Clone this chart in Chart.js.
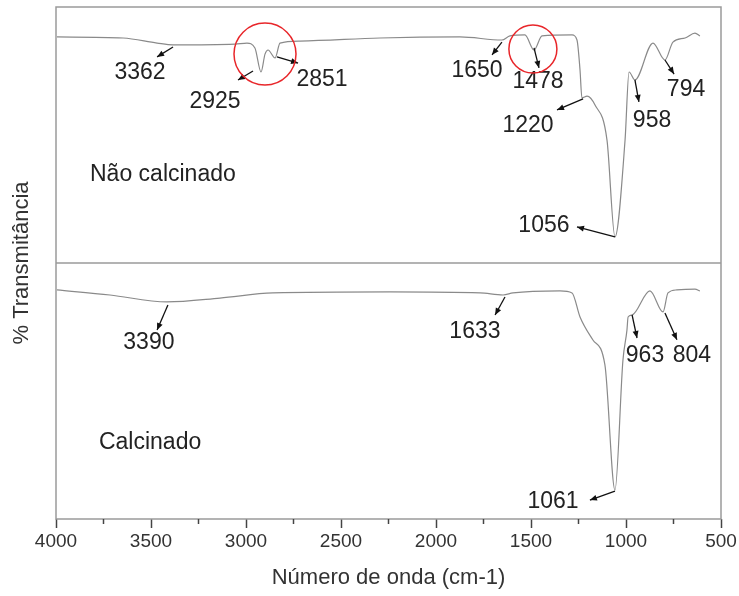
<!DOCTYPE html>
<html>
<head>
<meta charset="utf-8">
<script src="https://cdn.jsdelivr.net/npm/chart.js@4.4.1/dist/chart.umd.min.js"></script>
<style>
  html, body { margin: 0; padding: 0; background: #fff; }
</style>
</head>
<body>
<canvas id="ftir" width="739" height="596"></canvas>
<script>
// spectrum: wavenumber (cm-1) and % transmittance (0-100 per panel)
const wnTop = [3995, 3647, 3468, 3384, 3058, 2995, 2953, 2921, 2900, 2884, 2847, 2821, 2716, 2295, 1874, 1653, 1611, 1532, 1484, 1442, 1284, 1258, 1242, 1232, 1205, 1163, 1100, 1058, 1005, 984, 953, 858, 795, 753, 689, 637, 611];
const tTop = [88.3, 87.9, 85.9, 85.2, 85.5, 85.9, 84.0, 74.6, 81.6, 83.2, 80.1, 85.9, 86.7, 87.9, 88.3, 87.1, 88.7, 89.1, 83.2, 88.7, 89.1, 87.1, 75.4, 64.5, 65.2, 61.7, 48.0, 10.2, 48.0, 74.6, 71.5, 85.9, 79.3, 86.3, 87.9, 89.8, 88.7];

const wnBottom = [3995, 3716, 3416, 3137, 2858, 2242, 1768, 1647, 1595, 1347, 1284, 1242, 1174, 1111, 1058, 1016, 995, 989, 968, 874, 805, 779, 732, 637, 611];
const tBottom = [89.5, 87.5, 84.8, 86.3, 88.3, 88.7, 88.3, 87.5, 88.3, 89.1, 88.3, 78.9, 69.9, 60.2, 11.3, 62.1, 73.8, 78.9, 79.7, 89.1, 80.9, 88.3, 89.5, 89.8, 89.1];

const panelOffset = 100; // top panel sits above the bottom one
const xTicks = [4000, 3500, 3000, 2500, 2000, 1500, 1000, 500];
const xMinorTicks = [3750, 3250, 2750, 2250, 1750, 1250, 750];

const panelNames = ['Não calcinado', 'Calcinado'];
const panelNamePos = [[3821, 134.4], [3774, 29.7]];

// [text, label x, label y, arrow start on curve x, y, arrow head x, y]  (axis units)
const peakNotes = [
  ['3362', 3558, 174.2, 3384, 184.4, 3468, 180.5],
  ['2925', 3163, 162.9, 2963, 175.0, 3042, 171.5],
  ['2851', 2600, 171.5, 2837, 180.5, 2726, 178.1],
  ['1650', 1784, 175.0, 1653, 186.3, 1705, 181.3],
  ['1478', 1463, 170.7, 1484, 184.0, 1458, 176.2],
  ['1220', 1516, 153.5, 1226, 164.1, 1363, 159.8],
  ['958', 863, 155.5, 953, 171.5, 932, 162.9],
  ['794', 684, 167.6, 795, 179.3, 747, 173.8],
  ['1056', 1432, 114.5, 1058, 110.2, 1258, 114.1],
  ['3390', 3511, 68.8, 3411, 83.6, 3468, 73.8],
  ['1633', 1795, 73.0, 1637, 86.7, 1689, 79.7],
  ['963', 900, 63.7, 968, 79.7, 942, 70.7],
  ['804', 653, 63.7, 795, 80.5, 732, 70.0],
  ['1061', 1384, 6.6, 1058, 10.9, 1190, 7.4],
];
// highlighted regions: centre x, centre y, radius in px
const circles = [[2900, 181.6, 31], [1490, 183.6, 24]];

const lineColor = '#8a8a8a';
const textColor = '#222';
const fontFamily = 'Arial, "Liberation Sans", Helvetica, sans-serif';

const toPoints = (xs, ys, off) => xs.map((x, i) => ({ x, y: ys[i] + off }));

const decorations = {
  id: 'decorations',
  afterDatasetsDraw(chart) {
    const { ctx, chartArea: a, scales: { x, y } } = chart;
    ctx.save();

    // frame + divider
    ctx.strokeStyle = '#9a9a9a';
    ctx.lineWidth = 1.5;
    ctx.strokeRect(a.left, a.top, a.right - a.left, a.bottom - a.top);
    const yMid = y.getPixelForValue(panelOffset);
    ctx.beginPath();
    ctx.moveTo(a.left, yMid);
    ctx.lineTo(a.right, yMid);
    ctx.stroke();

    // minor ticks
    ctx.strokeStyle = '#444';
    ctx.lineWidth = 1.5;
    xMinorTicks.forEach(v => {
      const px = x.getPixelForValue(v);
      ctx.beginPath();
      ctx.moveTo(px, a.bottom);
      ctx.lineTo(px, a.bottom + 5);
      ctx.stroke();
    });

    // panel names
    ctx.fillStyle = textColor;
    ctx.font = '23px ' + fontFamily;
    ctx.textAlign = 'left';
    ctx.textBaseline = 'middle';
    panelNames.forEach((t, i) => {
      ctx.fillText(t, x.getPixelForValue(panelNamePos[i][0]), y.getPixelForValue(panelNamePos[i][1]));
    });

    // peak labels with arrows
    ctx.textAlign = 'center';
    peakNotes.forEach(([t, lx, ly, sx, sy, hx, hy]) => {
      ctx.fillStyle = textColor;
      ctx.fillText(t, x.getPixelForValue(lx), y.getPixelForValue(ly));
      const x0 = x.getPixelForValue(sx), y0 = y.getPixelForValue(sy);
      const x1 = x.getPixelForValue(hx), y1 = y.getPixelForValue(hy);
      ctx.strokeStyle = '#111';
      ctx.lineWidth = 1.3;
      ctx.beginPath();
      ctx.moveTo(x0, y0);
      ctx.lineTo(x1, y1);
      ctx.stroke();
      const ang = Math.atan2(y1 - y0, x1 - x0);
      ctx.fillStyle = '#111';
      ctx.beginPath();
      ctx.moveTo(x1, y1);
      ctx.lineTo(x1 - 7 * Math.cos(ang) + 3 * Math.sin(ang), y1 - 7 * Math.sin(ang) - 3 * Math.cos(ang));
      ctx.lineTo(x1 - 7 * Math.cos(ang) - 3 * Math.sin(ang), y1 - 7 * Math.sin(ang) + 3 * Math.cos(ang));
      ctx.closePath();
      ctx.fill();
    });

    // red circles
    ctx.strokeStyle = '#e8262a';
    ctx.lineWidth = 1.5;
    circles.forEach(([cx, cy, r]) => {
      ctx.beginPath();
      ctx.arc(x.getPixelForValue(cx), y.getPixelForValue(cy), r, 0, Math.PI * 2);
      ctx.stroke();
    });
    ctx.restore();
  }
};

new Chart(document.getElementById('ftir'), {
  type: 'line',
  data: {
    datasets: [
      {
        label: panelNames[0],
        data: toPoints(wnTop, tTop, panelOffset),
        borderColor: lineColor,
        borderWidth: 1.2,
        pointRadius: 0,
        cubicInterpolationMode: 'monotone',
      },
      {
        label: panelNames[1],
        data: toPoints(wnBottom, tBottom, 0),
        borderColor: lineColor,
        borderWidth: 1.2,
        pointRadius: 0,
        cubicInterpolationMode: 'monotone',
      },
    ],
  },
  options: {
    responsive: false,
    animation: false,
    layout: { padding: { top: 7, right: 18, left: 0, bottom: 0 } },
    plugins: { legend: { display: false }, tooltip: { enabled: false } },
    scales: {
      x: {
        type: 'linear',
        reverse: true,
        min: 500,
        max: 4000,
        afterBuildTicks: s => { s.ticks = xTicks.map(v => ({ value: v })); },
        afterFit: s => { s.height = 77; },
        ticks: {
          color: '#333',
          font: { family: fontFamily, size: 19 },
          padding: 2,
          maxRotation: 0,
          callback: v => String(v),
        },
        grid: { drawOnChartArea: false, tickLength: 9, tickWidth: 1.5, tickColor: '#444' },
        border: { display: false },
        title: {
          display: true,
          text: 'Número de onda (cm-1)',
          color: '#333',
          font: { family: fontFamily, size: 22 },
          padding: { top: 0, bottom: 5 },
        },
      },
      y: {
        min: 0,
        max: 200,
        afterFit: s => { s.width = 56; },
        ticks: { display: false },
        grid: { display: false },
        border: { display: false },
        title: {
          display: true,
          text: '% Transmitância',
          color: '#333',
          font: { family: fontFamily, size: 22 },
          padding: { top: 9, bottom: 0 },
        },
      },
    },
  },
  plugins: [decorations],
});
</script>
</body>
</html>
